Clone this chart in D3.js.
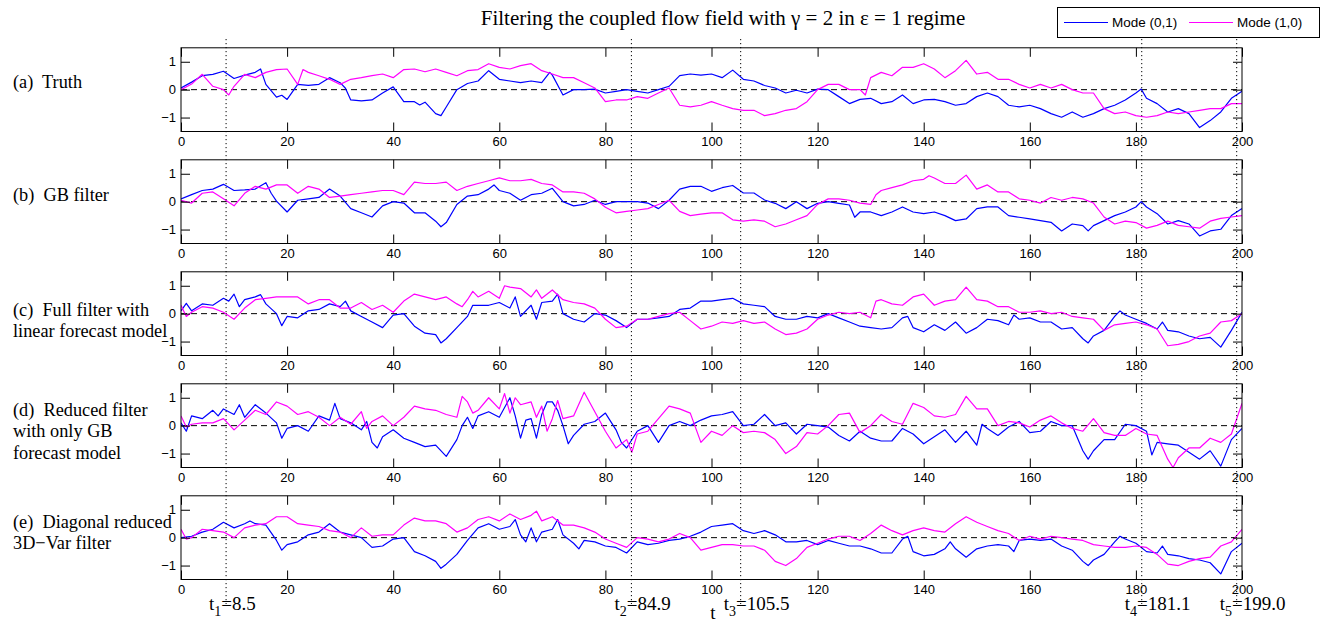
<!DOCTYPE html>
<html>
<head>
<meta charset="utf-8">
<script src="https://cdn.jsdelivr.net/npm/d3@7"></script>
<style>
  body { margin: 0; background: #fff; }
  svg { display: block; }
</style>
</head>
<body>
<svg id="fig" width="1323" height="621"></svg>
<script>
// ---- data -------------------------------------------------------------
const xTicks = [0, 20, 40, 60, 80, 100, 120, 140, 160, 180, 200];
const yTicks = [-1, 0, 1];
const seriesNames = ["Mode (0,1)", "Mode (1,0)"];
const seriesColors = ["#0000ff", "#ff00ff"];
const panelLabels = [
  ["(a)  Truth"],
  ["(b)  GB filter"],
  ["(c)  Full filter with", "linear forecast model"],
  ["(d)  Reduced filter", "with only GB", "forecast model"],
  ["(e)  Diagonal reduced", "3D\u2212Var filter"]
];
const markTimes = [8.5, 84.9, 105.5, 181.1, 199.0];
const titleText = "Filtering the coupled flow field with \u03b3 = 2 in \u03b5 = 1 regime";

// (a) truth
const truth01 = [[0,0.06],[2,0.27],[4,0.5],[6,0.55],[8,0.66],[10,0.4],[12,0.52],[14,0.62],[15,0.74],[16,0.19],[18,-0.27],[19,-0.2],[20,-0.35],[22,0.19],[24,0.15],[26,0.19],[28,0.43],[30,0.25],[31,0.05],[32,-0.37],[34,-0.4],[36,-0.37],[38,-0.12],[40,0.1],[42,-0.43],[44,-0.43],[45,-0.55],[46,-0.45],[48,-0.86],[49,-0.93],[50,-0.62],[52,0],[54,0.22],[56,0.31],[58,0.68],[60,0.37],[62,0.31],[64,0.25],[66,0.31],[68,0.25],[69.5,0.62],[70,0.52],[72,-0.19],[74,0],[76,0],[78,0.02],[80,-0.12],[82,-0.06],[84,0],[86,-0.06],[88,-0.12],[90,0],[92,0.12],[94,0.5],[96,0.56],[98,0.52],[100,0.56],[102,0.43],[104,0.7],[106,0.37],[108,0.31],[110,0.15],[112,0.06],[114,-0.12],[116,-0.02],[118,-0.12],[120,0.02],[122,0],[124,-0.25],[126,-0.5],[128,-0.35],[130,-0.31],[132,-0.5],[134,-0.43],[136,-0.19],[138,-0.5],[140,-0.37],[142,-0.35],[144,-0.43],[146,-0.56],[148,-0.5],[150,-0.25],[152,-0.12],[154,-0.25],[156,-0.56],[158,-0.62],[160,-0.56],[162,-0.68],[164,-0.86],[166,-0.99],[168,-0.8],[170,-0.99],[172,-0.86],[174,-0.68],[176,-0.56],[178,-0.37],[180,-0.12],[181,0.02],[182,-0.31],[184,-0.5],[186,-0.8],[188,-0.68],[190,-0.86],[192,-1.36],[194,-1.11],[196,-0.8],[198,-0.31],[200,-0.06]];
const truth10 = [[0,0],[2,0.2],[4,0.55],[6,0.12],[8,0],[9,-0.19],[10,0.12],[12,0.55],[14,0.43],[16,0.62],[18,0.72],[20,0.74],[22,0.19],[23,0.72],[24,0.62],[26,0.5],[28,0.37],[30,0.19],[32,0.37],[34,0.43],[36,0.5],[38,0.56],[40,0.43],[42,0.72],[44,0.74],[46,0.64],[48,0.74],[50,0.62],[52,0.5],[54,0.68],[56,0.72],[58,0.93],[60,0.8],[62,0.74],[64,0.86],[66,0.93],[68,0.68],[70,0.56],[72,0.43],[74,0.43],[76,0.25],[78,0.06],[80,-0.43],[82,-0.37],[84,-0.37],[86,-0.25],[88,-0.31],[90,-0.12],[92,0.06],[94,-0.56],[96,-0.62],[98,-0.56],[100,-0.43],[102,-0.56],[104,-0.68],[106,-0.74],[108,-0.74],[110,-0.93],[112,-0.86],[114,-0.74],[116,-0.68],[118,-0.43],[120,0],[122,0.19],[124,0.19],[126,0],[128,0],[129,-0.19],[130,0.43],[132,0.62],[134,0.5],[136,0.8],[138,0.8],[140,0.93],[142,0.74],[144,0.43],[146,0.68],[148,1.05],[150,0.56],[152,0.62],[154,0.37],[156,0.37],[158,0.19],[160,0.06],[162,0.19],[164,0.06],[166,0.19],[168,0],[170,-0.12],[172,-0.12],[174,-0.68],[176,-0.86],[178,-0.8],[180,-0.93],[182,-0.99],[184,-0.93],[186,-0.8],[188,-0.86],[190,-0.8],[192,-0.74],[194,-0.68],[196,-0.68],[198,-0.5],[200,-0.5]];

// (b) GB filter
const gb01 = [[0,0.1],[2,0.25],[4,0.4],[6,0.45],[8,0.62],[10,0.4],[12,0.42],[14,0.45],[16,0.68],[17,0.3],[18,0.02],[20,-0.37],[22,0.05],[24,0.1],[26,0.15],[28,0.45],[30,0.2],[32,-0.25],[34,-0.4],[36,-0.55],[38,-0.15],[40,0],[42,-0.05],[44,-0.4],[46,-0.4],[48,-0.7],[49,-0.9],[50,-0.75],[52,-0.1],[54,0.2],[56,0.25],[58,0.45],[59,0.6],[60,0.4],[62,0.3],[64,0.05],[66,0.25],[68,0.3],[70,0.48],[72,0],[74,-0.15],[76,-0.1],[78,0.05],[80,-0.1],[82,0],[84,0],[86,0],[88,-0.05],[90,-0.25],[92,0.05],[94,0.45],[96,0.55],[98,0.55],[100,0.37],[102,0.5],[104,0.58],[106,0.31],[108,0.31],[110,0.06],[112,-0.06],[114,-0.25],[116,0],[118,-0.25],[120,-0.06],[122,0],[124,-0.06],[126,-0.12],[127,-0.56],[128,-0.37],[130,-0.37],[132,-0.5],[134,-0.37],[136,-0.19],[138,-0.37],[140,-0.43],[142,-0.37],[144,-0.5],[146,-0.68],[148,-0.62],[150,-0.25],[152,-0.19],[154,-0.19],[156,-0.5],[158,-0.56],[160,-0.62],[162,-0.68],[164,-0.74],[166,-1.05],[168,-0.8],[170,-0.86],[171,-1.05],[172,-0.86],[174,-0.68],[176,-0.5],[178,-0.37],[180,-0.19],[181,0],[182,-0.19],[184,-0.43],[186,-0.8],[188,-0.68],[190,-0.8],[192,-1.23],[194,-1.05],[196,-0.99],[198,-0.5],[200,-0.25]];
const gb10 = [[0,0.05],[2,-0.05],[4,0.3],[6,0.35],[8,0.1],[10,-0.15],[12,0.3],[14,0.55],[16,0.45],[18,0.6],[20,0.6],[22,0.3],[24,0.55],[26,0.45],[28,0.15],[30,0.2],[32,0.25],[34,0.3],[36,0.35],[38,0.4],[40,0.4],[42,0.25],[44,0.7],[46,0.65],[48,0.65],[50,0.7],[52,0.4],[54,0.55],[56,0.65],[58,0.75],[60,0.85],[62,0.75],[64,0.75],[66,0.8],[68,0.65],[70,0.6],[72,0.35],[74,0.35],[76,0.3],[78,0.1],[80,-0.2],[82,-0.4],[84,-0.35],[86,-0.3],[88,-0.25],[90,-0.1],[92,0.05],[94,-0.35],[96,-0.5],[98,-0.45],[100,-0.4],[102,-0.4],[104,-0.65],[106,-0.7],[108,-0.65],[110,-0.7],[112,-0.9],[114,-0.8],[116,-0.65],[118,-0.5],[120,-0.1],[122,0.1],[124,0.1],[126,0.05],[128,-0.05],[130,-0.1],[131,0.25],[132,0.4],[134,0.5],[136,0.6],[138,0.75],[140,0.8],[141,0.93],[142,0.85],[144,0.65],[146,0.65],[148,0.95],[150,0.45],[152,0.6],[154,0.35],[156,0.35],[158,0.1],[160,0.05],[162,-0.05],[164,0.15],[166,0.05],[168,0.15],[170,0.1],[172,-0.05],[174,-0.55],[176,-0.8],[178,-0.7],[180,-0.75],[182,-0.95],[184,-0.85],[186,-0.7],[188,-0.85],[190,-0.9],[192,-0.95],[194,-0.7],[196,-0.6],[198,-0.55],[200,-0.5]];

// (c) full filter, linear forecast model
const full01 = [[0,0.1],[1,0.37],[2,0.1],[4,0.35],[6,0.3],[8,0.55],[9,0.45],[10,0.7],[11,0.25],[12,0.5],[14,0.6],[15,0.68],[16,0.35],[18,0],[19,-0.43],[20,-0.1],[22,-0.15],[24,0.1],[26,0.15],[28,0.35],[30,0.25],[31,0.45],[32,0.1],[34,-0.1],[36,-0.3],[38,-0.5],[40,-0.05],[42,0],[44,-0.45],[46,-0.7],[48,-0.75],[49,-1.05],[50,-0.9],[52,-0.5],[54,-0.1],[55,0.3],[56,0.3],[58,0.3],[60,0.4],[62,0.2],[63,0.6],[64,-0.1],[66,0.3],[67,-0.2],[68,0.4],[70,0.45],[71,0.7],[72,0],[74,-0.2],[76,-0.3],[78,0],[80,-0.05],[82,-0.25],[84,-0.5],[86,-0.2],[88,-0.2],[90,-0.15],[92,-0.1],[94,0.15],[96,0.2],[98,0.45],[100,0.45],[102,0.5],[104,0.55],[106,0.35],[108,0.3],[110,0.25],[112,-0.1],[114,-0.2],[116,-0.2],[118,-0.1],[120,-0.15],[122,0],[124,-0.15],[126,-0.3],[128,-0.45],[130,-0.5],[132,-0.55],[134,-0.5],[136,-0.15],[137,-0.1],[138,-0.5],[140,-0.65],[142,-0.4],[144,-0.6],[146,-0.3],[148,-0.7],[150,-0.5],[152,-0.2],[154,-0.25],[156,-0.4],[157,-0.05],[158,-0.2],[160,-0.15],[162,-0.3],[164,-0.3],[166,-0.55],[168,-0.5],[170,-0.9],[171,-1.05],[172,-0.8],[174,-0.6],[176,-0.1],[177,0.1],[178,-0.05],[180,-0.2],[182,-0.35],[184,-0.55],[185,-0.3],[186,-0.6],[188,-0.65],[190,-0.8],[192,-0.9],[194,-0.85],[196,-1.2],[198,-0.6],[200,0.05]];
const full10 = [[0,0.3],[1,-0.1],[2,0.05],[4,0.25],[6,0.2],[8,0.05],[10,-0.2],[12,0.2],[14,0.5],[16,0.55],[18,0.6],[20,0.6],[22,0.6],[24,0.35],[26,0.5],[28,0.5],[30,0.2],[32,0.2],[34,0.4],[36,0.15],[38,0.3],[40,0.05],[42,0.45],[44,0.7],[46,0.6],[48,0.5],[50,0.6],[52,0.35],[53,0.25],[54,0.5],[55,0.8],[56,0.6],[58,0.8],[60,0.55],[61,1.0],[62,0.95],[64,0.9],[66,0.6],[67,0.85],[68,0.55],[70,0.85],[72,0.5],[74,0.4],[76,0.35],[78,0.2],[80,-0.2],[82,-0.5],[84,-0.45],[86,-0.2],[88,-0.2],[90,-0.1],[92,0],[94,0.05],[96,-0.25],[98,-0.55],[100,-0.45],[102,-0.3],[104,-0.35],[106,-0.25],[108,-0.35],[110,-0.3],[112,-0.55],[114,-0.75],[116,-0.7],[118,-0.55],[120,-0.2],[122,-0.05],[124,0.05],[126,0],[128,0.05],[130,-0.15],[131,0.45],[132,0.5],[134,0.35],[136,0.3],[138,0.6],[140,0.7],[142,0.3],[144,0.45],[146,0.5],[148,0.95],[150,0.5],[152,0.45],[154,0.25],[156,0.25],[158,0.05],[160,0.05],[162,0.1],[164,0],[166,0.05],[168,-0.1],[170,-0.15],[172,-0.2],[174,-0.6],[176,-0.4],[178,-0.35],[180,-0.3],[182,-0.4],[184,-0.55],[186,-1.15],[188,-1.1],[190,-1.0],[192,-0.8],[194,-0.7],[196,-0.3],[198,-0.25],[200,0]];

// (d) reduced filter, GB forecast model only
const reduced01 = [[0,0.1],[1,-0.2],[2,0.35],[4,0.25],[6,0.55],[7,0.35],[8,0.6],[10,0.4],[11,0.75],[12,0.3],[14,0.75],[16,0.45],[18,0.1],[19,-0.45],[20,-0.1],[22,0],[24,-0.2],[26,0.35],[28,0.2],[29,0.8],[30,0.25],[32,0.1],[34,-0.15],[35,0.15],[36,-0.6],[37,-0.8],[38,-0.4],[40,-0.15],[42,-0.45],[44,-0.6],[46,-0.75],[48,-0.7],[50,-1.1],[52,-0.5],[53,0],[54,0.3],[55,-0.1],[56,0.35],[58,0.5],[60,0.3],[62,1.0],[63,0.35],[64,-0.45],[65,0.2],[66,0.25],[67,-0.45],[68,0.4],[69,0.85],[70,0.85],[71,0.55],[72,0],[73,-0.65],[74,-0.35],[76,0.05],[78,0.15],[80,0.45],[82,-0.15],[83,-0.6],[84,-0.8],[86,-0.2],[88,0],[90,-0.6],[92,0],[94,0.15],[96,0],[98,0.2],[100,0.35],[102,0.4],[104,0.5],[106,0],[108,0.05],[110,0.4],[112,0],[114,0.1],[116,-0.3],[118,0.05],[120,0],[122,-0.05],[124,-0.35],[126,-0.55],[128,-0.2],[130,-0.45],[132,-0.55],[134,-0.55],[136,-0.1],[138,-0.3],[140,-0.65],[142,-0.4],[144,-0.15],[146,-0.6],[148,-0.2],[150,-0.7],[151,0.05],[152,-0.1],[154,-0.35],[156,-0.05],[158,0.15],[160,-0.25],[162,-0.2],[164,0.15],[166,0],[168,0],[170,-0.9],[171,-1.2],[172,-0.9],[174,-0.5],[176,-0.5],[178,0.05],[180,0],[182,-0.2],[183,-1.05],[184,-0.6],[186,-0.65],[188,-0.7],[190,-0.95],[192,-1.2],[194,-0.9],[196,-1.45],[198,-0.5],[200,-0.1]];
const reduced10 = [[0,0.35],[1,-0.05],[2,0.05],[4,0.1],[6,0.1],[8,0.25],[10,-0.15],[12,0.2],[14,0.55],[16,0.4],[18,0.85],[20,0.7],[22,0.4],[24,0.5],[26,0.3],[28,0],[30,0.3],[32,0.05],[34,0.5],[35,-0.1],[36,0.15],[38,0.35],[40,0],[42,0.3],[44,0.7],[46,0.6],[48,0.55],[50,0.4],[52,0.3],[53,1.05],[54,0.85],[55,0.45],[56,0.55],[58,1.0],[60,0.6],[61,1.15],[62,0.45],[63,1.0],[64,0.75],[66,0.85],[67,0.3],[68,0.7],[69,-0.2],[70,0.25],[71,0.9],[72,0.25],[74,0.35],[76,1.2],[78,0.5],[80,-0.2],[82,-0.8],[84,-0.5],[85,-0.95],[86,-0.3],[88,-0.2],[90,0.25],[92,0.7],[94,0.6],[96,0.45],[98,-0.6],[100,-0.2],[102,-0.35],[104,0],[106,-0.25],[108,-0.2],[110,-0.25],[112,-0.5],[114,-1.0],[116,-0.75],[118,-0.25],[120,-0.3],[122,0],[124,0.4],[126,0.45],[128,-0.25],[130,0],[132,0.4],[134,0.15],[136,0.05],[138,0.8],[140,0.65],[142,0.35],[144,0.3],[146,0.4],[148,1.05],[150,0.6],[152,0.6],[154,0],[156,0.15],[158,0.1],[160,-0.05],[162,0.2],[164,0.35],[166,0.1],[168,-0.1],[170,-0.2],[172,0.25],[174,-0.25],[176,-0.35],[178,-0.35],[180,-0.1],[182,-0.3],[184,-0.35],[186,-1.2],[187,-1.5],[188,-1.15],[190,-0.8],[192,-0.8],[194,-0.45],[196,-0.6],[198,-0.3],[200,0.8]];

// (e) diagonal reduced 3D-Var filter
const diag01 = [[0,0],[2,0.05],[4,0.2],[6,0.3],[8,0.55],[10,0.35],[12,0.5],[13,0.6],[14,0.5],[16,0.45],[18,-0.1],[19,-0.45],[20,-0.25],[22,-0.15],[24,0.1],[26,0.2],[28,0.5],[30,0.2],[32,0.1],[34,0],[36,-0.35],[38,-0.3],[40,-0.05],[42,0],[44,-0.5],[46,-0.65],[48,-0.85],[49,-1.1],[50,-0.95],[52,-0.6],[54,-0.1],[56,0.35],[58,0.5],[60,0.3],[62,0.4],[63,0.65],[64,0.1],[65,-0.15],[66,0.35],[67,-0.15],[68,0.2],[70,0.3],[71,0.65],[72,0.1],[74,-0.2],[75,-0.4],[76,-0.1],[78,-0.15],[80,-0.3],[82,-0.35],[84,-0.55],[86,-0.15],[88,-0.25],[90,-0.2],[92,-0.1],[94,-0.05],[96,0.05],[98,0.2],[100,0.4],[102,0.45],[104,0.5],[106,0.25],[108,0.15],[110,0.25],[112,0.1],[114,-0.15],[116,-0.15],[118,-0.1],[120,-0.25],[122,-0.1],[124,-0.2],[126,-0.3],[128,-0.3],[130,-0.4],[132,-0.55],[134,-0.55],[136,-0.05],[137,0.05],[138,-0.5],[140,-0.65],[142,-0.6],[144,-0.4],[145,-0.15],[146,-0.4],[148,-0.7],[150,-0.4],[152,-0.3],[154,-0.25],[156,-0.3],[157,-0.5],[158,-0.1],[160,-0.05],[162,-0.1],[164,-0.05],[166,-0.3],[168,-0.45],[170,-0.85],[171,-1.0],[172,-0.8],[174,-0.6],[176,-0.15],[177,0.05],[178,-0.05],[180,-0.2],[182,-0.5],[184,-0.55],[185,-0.3],[186,-0.6],[188,-0.65],[190,-0.75],[192,-0.8],[194,-0.9],[196,-1.3],[198,-0.5],[200,-0.2]];
const diag10 = [[0,0.3],[1,-0.05],[2,0],[4,0.3],[6,0.25],[8,0.2],[10,0],[12,0.35],[14,0.45],[16,0.5],[18,0.75],[20,0.75],[22,0.5],[24,0.45],[26,0.4],[28,0.25],[30,0.2],[32,0],[34,0.35],[36,0.05],[38,0.1],[40,0.1],[42,0.45],[44,0.7],[46,0.6],[48,0.6],[50,0.5],[52,0.2],[54,0.35],[56,0.65],[58,0.75],[60,0.6],[62,0.85],[64,0.65],[66,0.8],[67,0.95],[68,0.6],[70,0.75],[72,0.45],[74,0.45],[76,0.35],[78,0.2],[80,-0.05],[82,-0.2],[84,-0.35],[86,0],[88,-0.05],[90,-0.15],[92,-0.05],[94,0.15],[96,0],[98,-0.45],[100,-0.35],[102,-0.25],[104,-0.25],[106,-0.3],[108,-0.3],[110,-0.45],[112,-0.85],[114,-1.0],[116,-0.75],[118,-0.35],[120,-0.2],[122,-0.05],[124,0.05],[126,0.05],[128,-0.1],[130,0.15],[132,0.45],[134,0.25],[136,0.1],[138,0.25],[140,0.35],[142,0.25],[144,0.2],[146,0.5],[148,0.75],[150,0.55],[152,0.4],[154,0.25],[156,0.15],[158,-0.1],[160,0.05],[162,-0.05],[164,0.05],[166,0],[168,-0.05],[170,-0.1],[172,-0.25],[174,-0.3],[176,-0.35],[178,-0.35],[180,-0.3],[182,-0.35],[184,-0.6],[186,-0.95],[188,-1.0],[190,-0.85],[192,-0.75],[194,-0.7],[196,-0.3],[198,-0.15],[200,0.3]];

const panelSeries = [
  [truth01, truth10],
  [gb01, gb10],
  [full01, full10],
  [reduced01, reduced10],
  [diag01, diag10]
];

// ---- layout -----------------------------------------------------------
const svg = d3.select("#fig");
const W = 1323, H = 621;
const axLeft = 181, axRight = 1242;
const firstTop = 47.8, panelH = 83.7, panelStep = 112;
const labelFirstOffset = [-2, -1, 2, -10, -10];   // first label line baseline, relative to y = 0
const labelLineH = 21.5;
const sansFont = "'Liberation Sans', Arial, Helvetica, sans-serif";
const serifFont = "'Liberation Serif', 'Times New Roman', Times, serif";

const x = d3.scaleLinear().domain([0, 200]).range([axLeft, axRight]);

svg.append("rect").attr("width", W).attr("height", H).attr("fill", "#fff");

panelSeries.forEach((series, i) => {
  const top = firstTop + i * panelStep;
  const y = d3.scaleLinear().domain([-1.5, 1.5]).range([top + panelH, top]);
  const g = svg.append("g");

  // clip for the traces
  const clipId = "clip" + i;
  svg.append("clipPath").attr("id", clipId)
    .append("rect").attr("x", axLeft).attr("y", top)
    .attr("width", axRight - axLeft).attr("height", panelH);

  // zero reference line
  g.append("line")
    .attr("x1", x(0)).attr("x2", x(200))
    .attr("y1", y(0)).attr("y2", y(0))
    .attr("stroke", "#000").attr("stroke-width", 1)
    .attr("stroke-dasharray", "6,4");

  const line = d3.line().x(d => x(d[0])).y(d => y(d[1]));
  series.forEach((s, k) => {
    g.append("path")
      .attr("d", line(s))
      .attr("fill", "none")
      .attr("stroke", seriesColors[k])
      .attr("stroke-width", 1.2)
      .attr("stroke-linejoin", "round")
      .attr("clip-path", `url(#${clipId})`);
  });

  // axes, ticks pointing inward on all four sides
  const tick = 9;
  g.append("g").attr("transform", `translate(0,${top + panelH})`)
    .call(d3.axisBottom(x).tickValues(xTicks).tickSizeInner(-tick).tickSizeOuter(0).tickPadding(5.5));
  g.append("g").attr("transform", `translate(0,${top})`)
    .call(d3.axisTop(x).tickValues(xTicks).tickSizeInner(-tick).tickSizeOuter(0).tickFormat(""));
  g.append("g").attr("transform", `translate(${axLeft},0)`)
    .call(d3.axisLeft(y).tickValues(yTicks).tickSizeInner(-tick).tickSizeOuter(0).tickPadding(5)
      .tickFormat(d => d < 0 ? "\u2212" + Math.abs(d) : String(d)));
  g.append("g").attr("transform", `translate(${axRight},0)`)
    .call(d3.axisRight(y).tickValues(yTicks).tickSizeInner(-tick).tickSizeOuter(0).tickFormat(""));

  g.selectAll(".domain").remove();
  g.selectAll(".tick line").attr("stroke", "#000").attr("stroke-width", 1);
  g.selectAll(".tick text").attr("fill", "#000")
    .style("font-family", sansFont).style("font-size", "13px");

  g.append("rect")
    .attr("x", axLeft).attr("y", top)
    .attr("width", axRight - axLeft).attr("height", panelH)
    .attr("fill", "none").attr("stroke", "#000").attr("stroke-width", 1);

  // panel label
  const lbl = svg.append("text")
    .attr("x", 13).attr("y", y(0) + labelFirstOffset[i])
    .style("font-family", serifFont).style("font-size", "18.3px").attr("fill", "#000");
  panelLabels[i].forEach((t, j) => {
    lbl.append("tspan").attr("x", 13).attr("dy", j === 0 ? 0 : labelLineH)
      .attr("xml:space", "preserve").text(t);
  });
});

// vertical markers at the selected times
const marks = svg.append("g");
markTimes.forEach((t, k) => {
  marks.append("line")
    .attr("x1", x(t)).attr("x2", x(t))
    .attr("y1", 39).attr("y2", 604)
    .attr("stroke", "#000").attr("stroke-width", 1)
    .attr("stroke-dasharray", "1.2,2.8");
  const txt = marks.append("text")
    .attr("x", x(t) - 17).attr("y", 610)
    .style("font-family", serifFont).style("font-size", "19px").attr("fill", "#000");
  txt.append("tspan").text("t");
  txt.append("tspan").attr("dy", 6).style("font-size", "14px").text(String(k + 1));
  txt.append("tspan").attr("dy", -6).text("=" + t.toFixed(1));
});

// x-axis name
svg.append("text").attr("x", 713).attr("y", 619)
  .attr("text-anchor", "middle")
  .style("font-family", serifFont).style("font-size", "19px").text("t");

// title
svg.append("text").attr("x", 723).attr("y", 25)
  .attr("text-anchor", "middle")
  .style("font-family", serifFont).style("font-size", "21px").attr("fill", "#000")
  .text(titleText);

// legend
const leg = svg.append("g");
leg.append("rect").attr("x", 1057.5).attr("y", 7.5).attr("width", 262).attr("height", 30)
  .attr("fill", "#fff").attr("stroke", "#000").attr("stroke-width", 1);
const legX = [[1064, 1108, 1112], [1189, 1233, 1237]];
seriesNames.forEach((name, k) => {
  leg.append("line").attr("x1", legX[k][0]).attr("x2", legX[k][1])
    .attr("y1", 22.5).attr("y2", 22.5)
    .attr("stroke", seriesColors[k]).attr("stroke-width", 1.2);
  leg.append("text").attr("x", legX[k][2]).attr("y", 27)
    .style("font-family", sansFont).style("font-size", "13.5px").text(name);
});
</script>
</body>
</html>
